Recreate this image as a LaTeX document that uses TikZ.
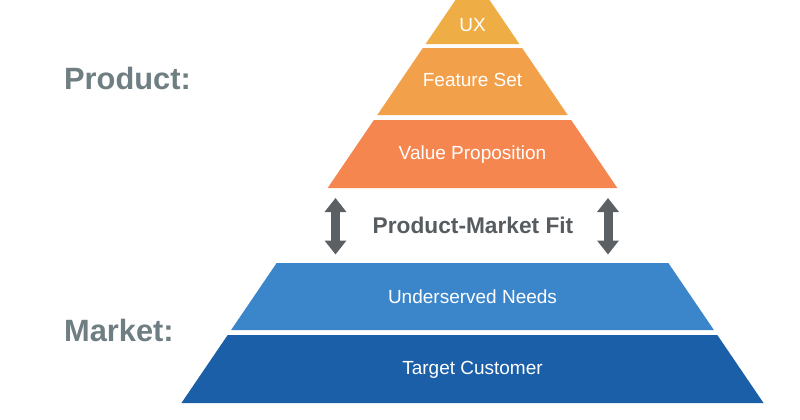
\documentclass[tikz,border=0pt]{standalone}
\usepackage{fontspec}
\setmainfont{Liberation Sans}
\usetikzlibrary{arrows.meta}
\definecolor{uxc}{HTML}{EFAE45}
\definecolor{fsc}{HTML}{F3A04B}
\definecolor{vpc}{HTML}{F5864F}
\definecolor{unc}{HTML}{3B86CB}
\definecolor{tcc}{HTML}{1A5FA8}
\definecolor{sidec}{HTML}{6F7E82}
\definecolor{fitc}{HTML}{565C60}
\definecolor{arrc}{HTML}{5A6064}
\tikzset{
  bandtext/.style={text=white,font=\fontsize{19bp}{22bp}\selectfont,inner sep=0pt},
  sidetext/.style={text=sidec,font=\fontsize{30.8bp}{34bp}\selectfont\bfseries,inner sep=0pt,anchor=west},
  fittext/.style={text=fitc,font=\fontsize{22.7bp}{26bp}\selectfont\bfseries,inner sep=0pt},
  fitarrow/.style={draw=arrc,line width=9bp,{Triangle[width=21bp,length=14bp]}-{Triangle[width=21bp,length=14bp]}}
}
\begin{document}
\begin{tikzpicture}[x=1bp,y=-1bp]
\useasboundingbox (0,0) rectangle (800,419);
\fill[white] (0,0) rectangle (800,419);
% pyramid bands (centre x=472.5, half width = 0.68*(y+25))
\fill[uxc] (455.5,0) -- (489.5,0) -- (519.42,44) -- (425.58,44) -- cycle;
\fill[fsc] (422.86,48) -- (522.14,48) -- (567.7,115) -- (377.3,115) -- cycle;
\fill[vpc] (373.9,120) -- (571.1,120) -- (617.34,188) -- (327.66,188) -- cycle;
\fill[unc] (276.66,263) -- (668.34,263) -- (713.9,330) -- (231.1,330) -- cycle;
\fill[tcc] (227.7,335) -- (717.3,335) -- (763.54,403) -- (181.46,403) -- cycle;
\node[bandtext] (ux) at (472.5,25) {UX};
\node[bandtext] (fs) at (472.5,80) {Feature Set};
\node[bandtext] (vp) at (472.5,155) {Value Proposition};
\node[bandtext] (un) at (472.5,297) {Underserved Needs};
\node[bandtext] (tc) at (472.5,370) {Target Customer};
\node[sidetext] (prod) at (64,78) {Product:};
\node[sidetext] (mark) at (64,330) {Market:};
\node[fittext] (fit) at (473,225) {Product-Market Fit};
\coordinate (la) at (335.5,198);
\coordinate (lb) at (335.5,254.5);
\coordinate (ra) at (608,198);
\coordinate (rb) at (608,254.5);
\draw[fitarrow] (la) -- (lb);
\draw[fitarrow] (ra) -- (rb);
\end{tikzpicture}
\end{document}
